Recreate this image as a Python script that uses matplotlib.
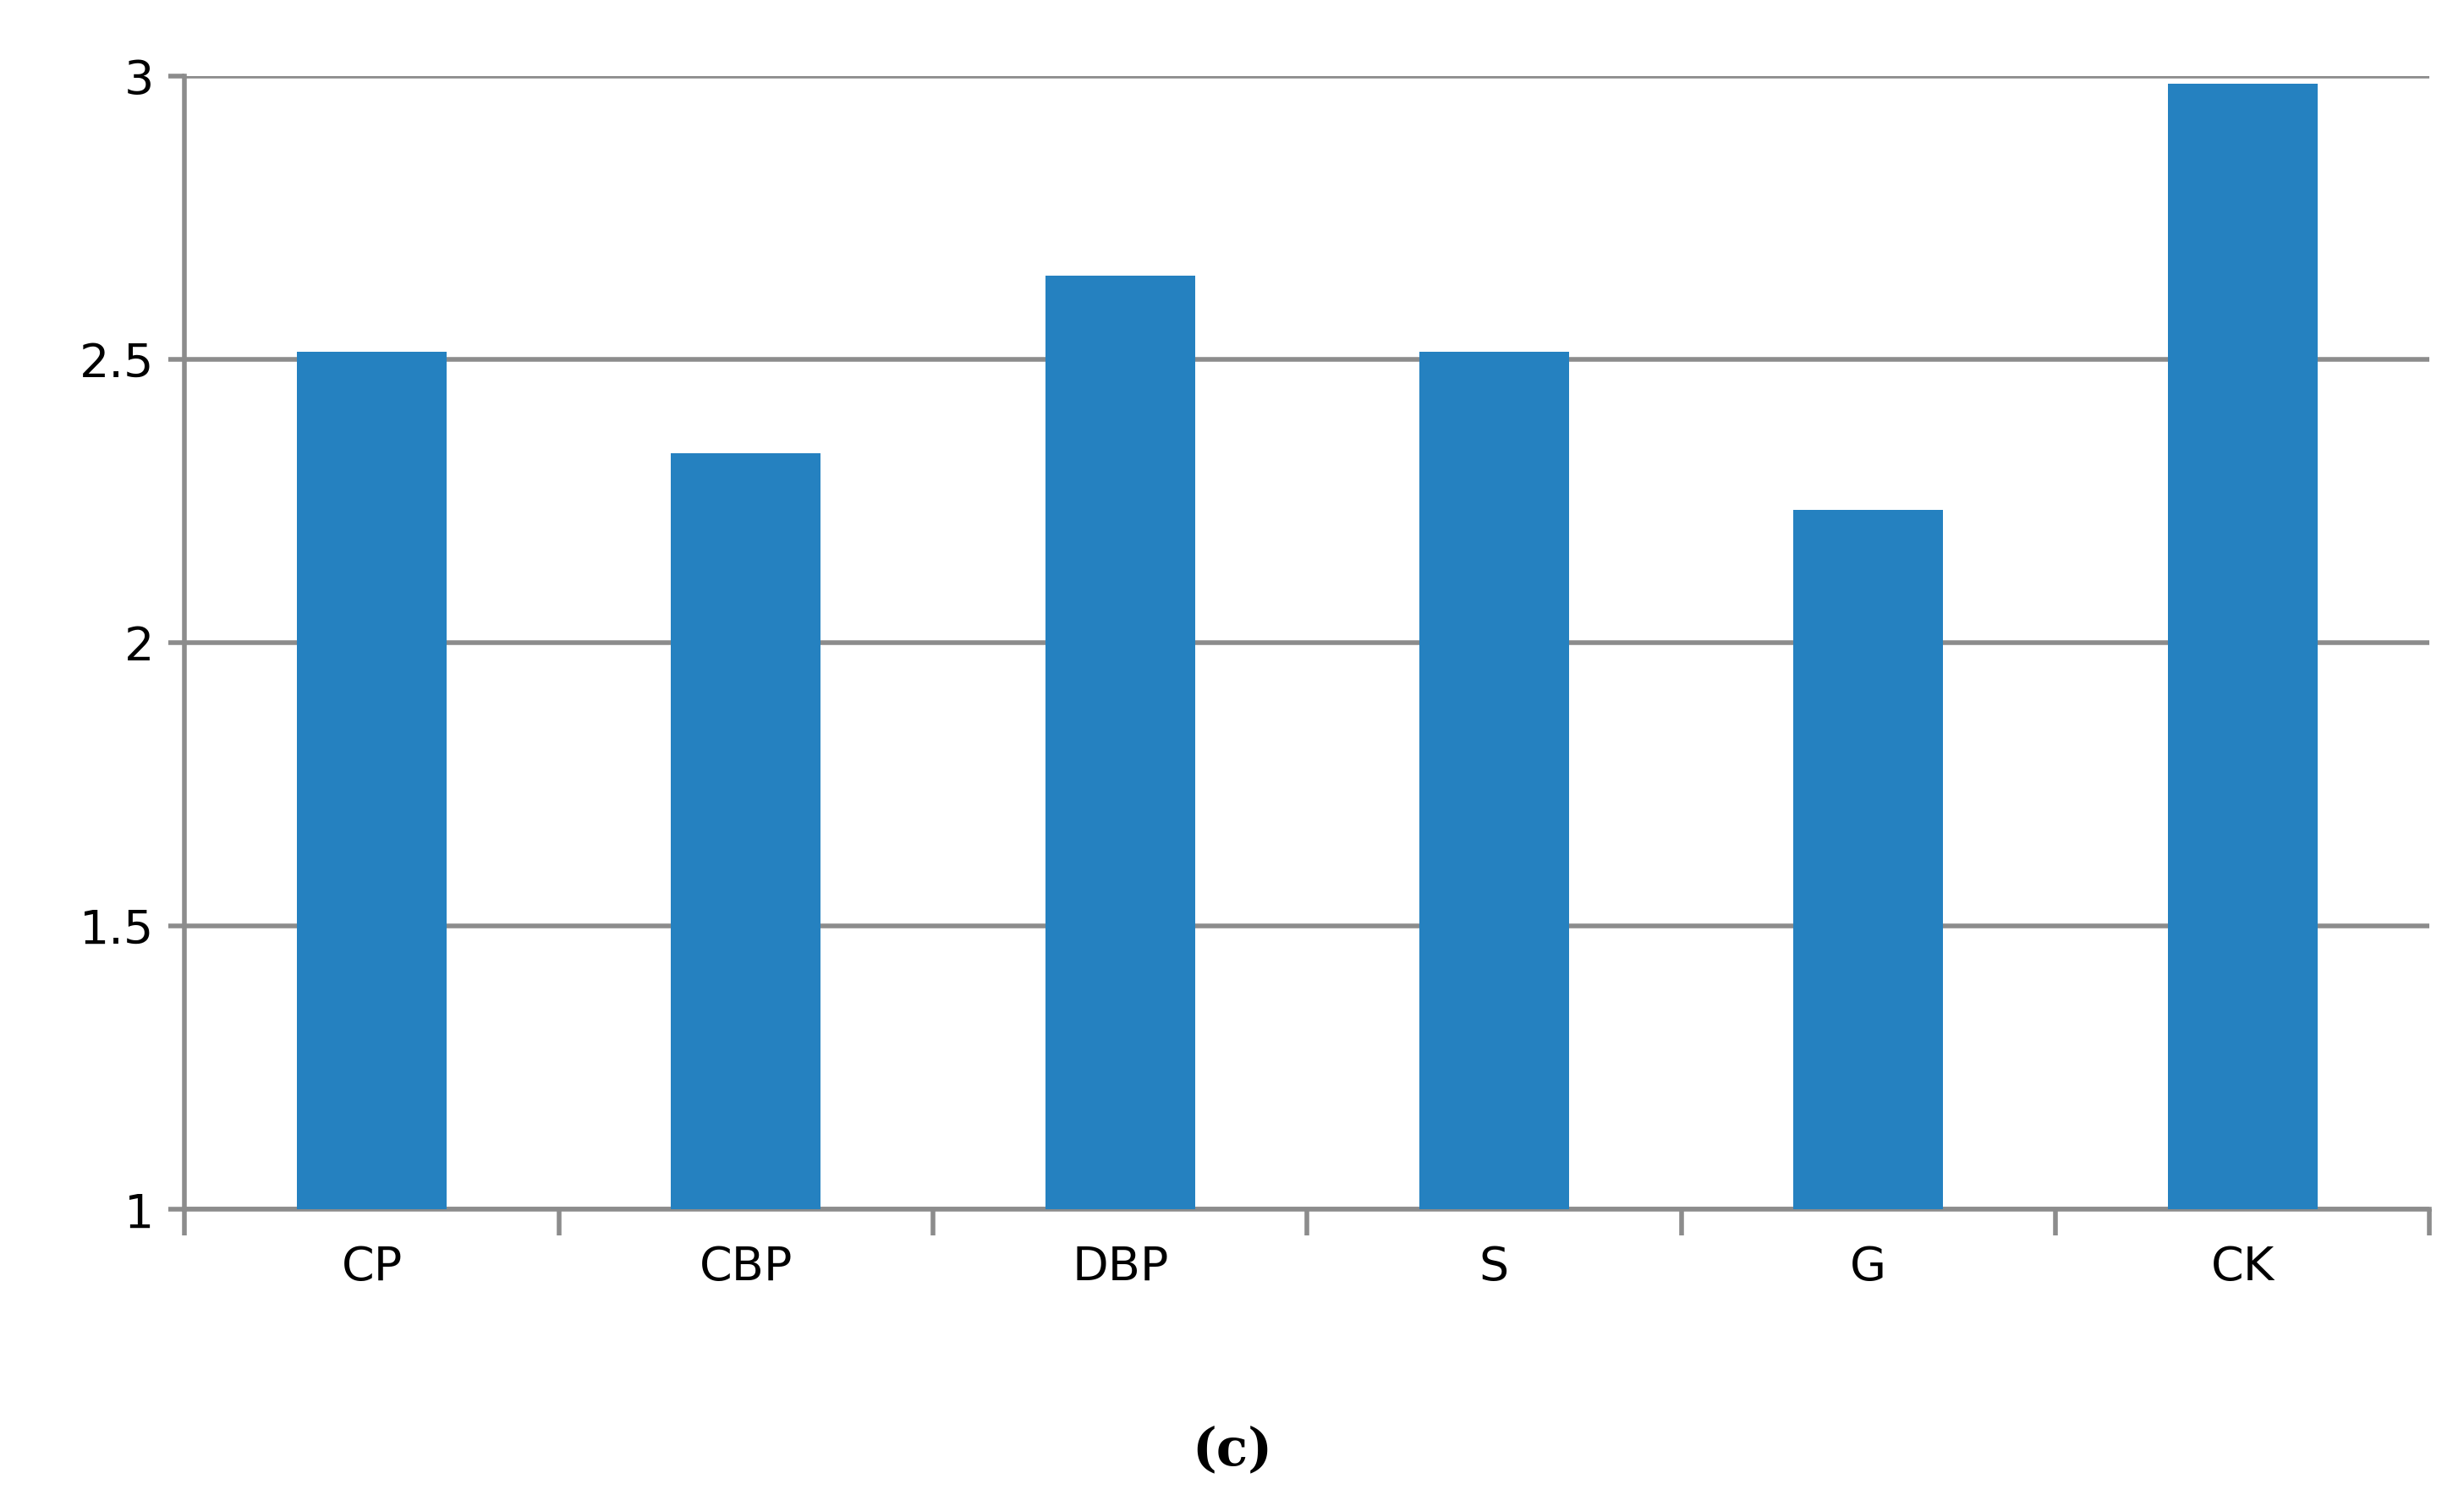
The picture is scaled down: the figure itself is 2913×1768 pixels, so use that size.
from matplotlib import pyplot as plt
import numpy as np

# values
categories = ['CP', 'CBP', 'DBP', 'S', 'G', 'CK']
values = [2.513, 2.335, 2.648, 2.513, 2.235, 2.987]
y_ticks = [1, 1.5, 2, 2.5, 3]
y_tick_labels = ['1', '1.5', '2', '2.5', '3']

grey = '#8c8c8c'

fig = plt.figure(figsize=(29.13, 17.68), dpi=100)
ax = fig.add_axes([0.075, 0.191, 0.911, 0.758])

x = np.arange(len(categories))
ax.bar(x, np.array(values) - 1, bottom=1, width=0.4, color='#2581c0', zorder=3)

ax.set_xlim(-0.5, len(categories) - 0.5)
ax.set_ylim(1, 3)
ax.set_yticks(y_ticks)
ax.set_yticklabels(y_tick_labels, fontsize=40)
ax.set_xticks(x)
ax.set_xticklabels(categories, fontsize=40)
ax.tick_params(axis='x', length=0, pad=30)
ax.tick_params(axis='y', length=14, width=4, color=grey, pad=12)
ax.set_xticks(np.arange(-0.5, len(categories)), minor=True)
ax.tick_params(axis='x', which='minor', length=22, width=4, color=grey, direction='out')

ax.grid(axis='y', color=grey, linewidth=4, zorder=0)
for side in ['top', 'right']:
    ax.spines[side].set_visible(False)
for side in ['left', 'bottom']:
    ax.spines[side].set_color(grey)
    ax.spines[side].set_linewidth(4)

fig.text(0.5, 0.03, '(c)', ha='center', va='center', fontsize=44,
         fontweight='bold', family='DejaVu Serif')

fig.savefig('out.png', dpi=100)
